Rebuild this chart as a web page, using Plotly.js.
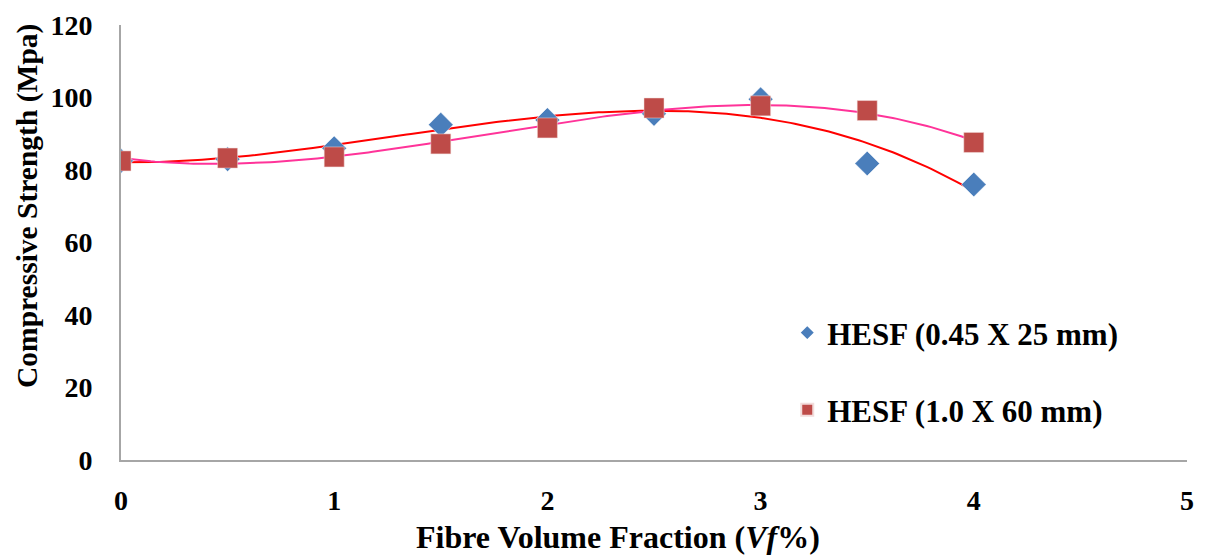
<!DOCTYPE html>
<html><head><meta charset="utf-8">
<script src="https://cdn.plot.ly/plotly-3.0.1.min.js"></script>
<style>body{margin:0;background:#fff}#c{width:1208px;height:556px}</style>
</head><body><div id="c"></div>
<script>
var xVals = [0, 0.5, 1, 1.5, 2, 2.5, 3, 3.5, 4];
var seriesA = [82.5, 83, 86, 92.5, 93.8, 95.5, 99.5, 81.8, 76];
var seriesB = [82.5, 83.3, 83.6, 87.2, 91.6, 97.1, 97.7, 96.4, 87.6];
var nameA = 'HESF (0.45 X 25 mm)';
var nameB = 'HESF (1.0 X 60 mm)';
var xTitle = '<b>Fibre Volume Fraction (<i>Vf</i>%)</b>';
var yTitle = '<b>Compressive Strength (Mpa)</b>';

// least-squares polynomial trendline (order 3), like the spreadsheet trendline
function polyfit(x, y, deg) {
  var n = deg + 1, A = [], b = [];
  for (var i = 0; i < n; i++) {
    A.push([]);
    for (var j = 0; j < n; j++) {
      var s = 0; for (var k = 0; k < x.length; k++) s += Math.pow(x[k], i + j);
      A[i].push(s);
    }
    var t = 0; for (var k = 0; k < x.length; k++) t += y[k] * Math.pow(x[k], i);
    b.push(t);
  }
  for (var i = 0; i < n; i++) {
    var p = i;
    for (var r = i + 1; r < n; r++) if (Math.abs(A[r][i]) > Math.abs(A[p][i])) p = r;
    var tmp = A[i]; A[i] = A[p]; A[p] = tmp; var tb = b[i]; b[i] = b[p]; b[p] = tb;
    for (var r = i + 1; r < n; r++) {
      var f = A[r][i] / A[i][i];
      for (var c = i; c < n; c++) A[r][c] -= f * A[i][c];
      b[r] -= f * b[i];
    }
  }
  var co = new Array(n);
  for (var i = n - 1; i >= 0; i--) {
    var s = b[i]; for (var c = i + 1; c < n; c++) s -= A[i][c] * co[c];
    co[i] = s / A[i][i];
  }
  return co;
}
function trend(x, y) {
  var co = polyfit(x, y, 3), xs = [], ys = [];
  var x0 = Math.min.apply(null, x), x1 = Math.max.apply(null, x);
  for (var i = 0; i <= 200; i++) {
    var xv = x0 + (x1 - x0) * i / 200, yv = 0;
    for (var d = 0; d < co.length; d++) yv += co[d] * Math.pow(xv, d);
    xs.push(xv); ys.push(yv);
  }
  return {x: xs, y: ys};
}
var tA = trend(xVals, seriesA), tB = trend(xVals, seriesB);

var fam = '"Liberation Serif", "Times New Roman", serif';
var legFont = {family: fam, size: 31, color: '#000', weight: 'bold'};
var data = [
  {x: tA.x, y: tA.y, mode: 'lines', line: {color: '#FF0000', width: 2}, showlegend: false, hoverinfo: 'skip'},
  {x: tB.x, y: tB.y, mode: 'lines', line: {color: '#FF3399', width: 2}, showlegend: false, hoverinfo: 'skip'},
  {x: xVals, y: seriesA, mode: 'markers', name: nameA, legend: 'legend',
   marker: {symbol: 'diamond', size: 19, color: '#4A7EBB', line: {color: '#FFFFFF', width: 0.5}}},
  {x: xVals, y: seriesB, mode: 'markers', name: nameB, legend: 'legend2',
   marker: {symbol: 'square', size: 20, color: '#BE4B48', line: {color: '#F2DCDB', width: 0.5}}}
];
var layout = {
  width: 1208, height: 556,
  margin: {l: 121, r: 21, t: 25, b: 96},
  paper_bgcolor: '#fff', plot_bgcolor: '#fff',
  font: {family: fam, color: '#000'},
  xaxis: {range: [0, 5], dtick: 1, tick0: 0, showgrid: false, zeroline: false,
    showline: true, linecolor: '#A6A6A6', linewidth: 2,
    ticks: 'outside', ticklen: 14, tickcolor: 'rgba(0,0,0,0)',
    tickfont: {family: fam, size: 28, color: '#000', weight: 'bold'}},
  yaxis: {range: [0, 120], dtick: 20, showgrid: false, zeroline: false,
    showline: true, linecolor: '#A6A6A6', linewidth: 2,
    ticks: 'outside', ticklen: 21, tickcolor: 'rgba(0,0,0,0)',
    tickfont: {family: fam, size: 28, color: '#000', weight: 'bold'}},
  annotations: [
    {text: xTitle, xref: 'paper', yref: 'paper', x: (618 - 121) / 1066, y: -(537 - 460) / 435,
     xanchor: 'center', yanchor: 'middle', showarrow: false, font: {family: fam, size: 32, color: '#000'}},
    {text: yTitle, xref: 'paper', yref: 'paper', x: -(121 - 27) / 1066, y: (460 - 206) / 435,
     xanchor: 'center', yanchor: 'middle', textangle: -90, showarrow: false, font: {family: fam, size: 29.5, color: '#000'}}
  ],
  legend: {x: 0.625, y: 0.292, xanchor: 'left', yanchor: 'middle', bgcolor: 'rgba(0,0,0,0)',
    font: legFont, itemsizing: 'constant', itemwidth: 30},
  legend2: {x: 0.625, y: 0.115, xanchor: 'left', yanchor: 'middle', bgcolor: 'rgba(0,0,0,0)',
    font: legFont, itemsizing: 'constant', itemwidth: 30},
  showlegend: true
};
Plotly.newPlot('c', data, layout, {displayModeBar: false, staticPlot: true});
</script></body></html>
